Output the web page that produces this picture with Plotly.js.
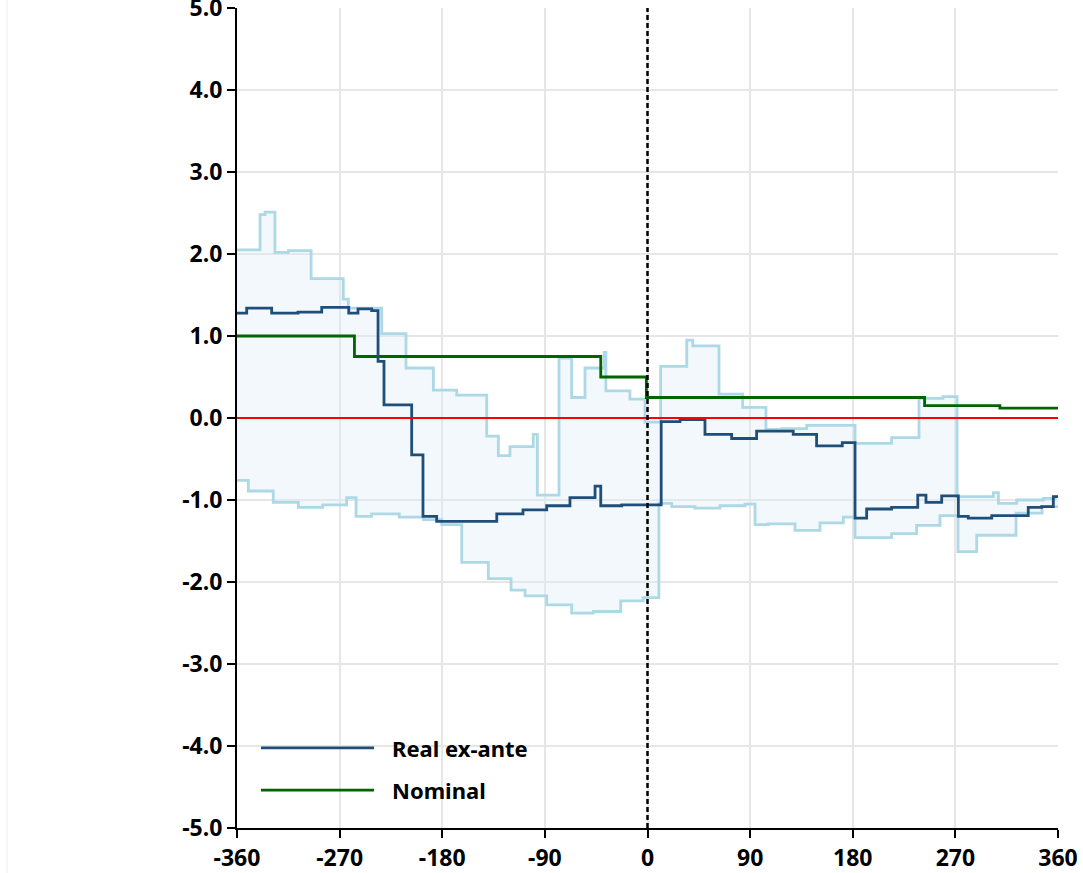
<!DOCTYPE html>
<html>
<head>
<meta charset="utf-8">
<script src="https://cdn.plot.ly/plotly-3.0.1.min.js"></script>
<style>html,body{margin:0;padding:0;background:#fff;}#chart{width:1083px;height:873px;}</style>
</head>
<body>
<div id="chart"></div>
<script>
// Real ex-ante (step changes)
const realX = [-360, -351.5, -329.6, -306.5, -285.7, -262, -253.9, -241.9, -236.3, -231.1, -206.8, -196.9, -184.9, -132.2, -109.2, -88.4, -68.0, -46.0, -41.0, -22.6, 12, 28.5, 50.4, 73.8, 95.7, 127.8, 148.3, 170.8, 182, 192.2, 214.1, 237.0, 244.2, 258.0, 272.6, 281.3, 301.9, 333.9, 345.7, 355.9, 360];
const realY = [1.28, 1.34, 1.28, 1.29, 1.35, 1.28, 1.33, 1.31, 0.69, 0.16, -0.45, -1.20, -1.26, -1.17, -1.12, -1.07, -0.97, -0.83, -1.07, -1.06, -0.045, -0.02, -0.20, -0.25, -0.16, -0.20, -0.34, -0.30, -1.22, -1.11, -1.09, -0.94, -1.03, -0.95, -1.20, -1.22, -1.19, -1.09, -1.08, -0.96, -0.96];

// Nominal
const nomX = [-360, -257, -41, -1, 243, 309, 360];
const nomY = [1.0, 0.75, 0.5, 0.25, 0.15, 0.12, 0.12];

// Band upper bound
const upX = [-360, -339.8, -335.4, -326.7, -315, -295, -266.8, -262.4, -233.1, -211.8, -187.8, -167.3, -141, -130.8, -120.6, -100.2, -96.6, -77.6, -66.5, -54.8, -38, -36.5, -15.4, -2.2, 11.5, 34.4, 39.7, 62.7, 83.5, 103.9, 117.7, 139.6, 182, 214.1, 238.1, 259.1, 271.5, 303.3, 307.7, 323.8, 347.1, 357.4, 360];
const upY = [2.05, 2.48, 2.51, 2.02, 2.04, 1.70, 1.45, 1.34, 1.03, 0.61, 0.34, 0.28, -0.22, -0.46, -0.35, -0.20, -0.94, 0.73, 0.25, 0.61, 0.80, 0.33, 0.23, -0.05, 0.63, 0.95, 0.88, 0.29, 0.13, -0.14, -0.13, -0.09, -0.31, -0.24, 0.24, 0.26, -0.96, -0.91, -1.04, -1.00, -0.98, -0.96, -0.96];

// Band lower bound
const loX = [-360, -350.1, -328.2, -306.2, -284.8, -263.8, -255.6, -241.9, -217.7, -196.6, -180.5, -162.9, -139.6, -119.7, -107.4, -88.4, -66.5, -47.5, -23.5, -3.7, 10, 21.2, 41.6, 63.6, 85.5, 94.3, 105.9, 129.4, 151.3, 171.7, 182, 214.1, 236.0, 256.5, 272.3, 288.7, 323.2, 346.0, 360];
const loY = [-0.76, -0.89, -1.03, -1.09, -1.06, -0.97, -1.20, -1.17, -1.21, -1.24, -1.30, -1.76, -1.96, -2.10, -2.17, -2.28, -2.38, -2.36, -2.23, -2.19, -1.04, -1.08, -1.10, -1.07, -1.05, -1.30, -1.29, -1.37, -1.28, -1.21, -1.46, -1.41, -1.31, -1.19, -1.63, -1.43, -1.16, -1.08, -1.08];

const xTicks = [-360, -270, -180, -90, 0, 90, 180, 270, 360];
const yTicks = [-5, -4, -3, -2, -1, 0, 1, 2, 3, 4, 5];
const legendNames = ['Real ex-ante', 'Nominal'];

const realColor = '#1f4e79', nomColor = '#006400', bandColor = '#add8e6';
const fontFam = 'Noto Sans, DejaVu Sans, sans-serif';

const traces = [
  {x: loX, y: loY, mode: 'lines', line: {shape: 'hv', color: bandColor, width: 2.8}, hoverinfo: 'skip'},
  {x: upX, y: upY, mode: 'lines', line: {shape: 'hv', color: bandColor, width: 2.8}, fill: 'tonexty', fillcolor: 'rgba(220,236,244,0.38)', hoverinfo: 'skip'},
  {x: nomX, y: nomY, mode: 'lines', name: legendNames[1], line: {shape: 'hv', color: nomColor, width: 2.8}},
  {x: realX, y: realY, mode: 'lines', name: legendNames[0], line: {shape: 'hv', color: realColor, width: 2.8}}
];

const tickFont = {family: fontFam, size: 23, color: '#000', weight: 'bold'};

// manual legend (long line samples)
const legY = [0.0976, 0.0463];
const legColors = [realColor, nomColor];
const legShapes = legY.map((y, i) => ({type: 'line', xref: 'paper', yref: 'paper', x0: 0.0292, x1: 0.1669, y0: y, y1: y,
  line: {color: legColors[i], width: 2.8}, layer: 'above'}));
const legAnn = legY.map((y, i) => ({xref: 'paper', yref: 'paper', x: 0.186, y: y, xanchor: 'left', yanchor: 'middle',
  text: legendNames[i], showarrow: false, font: {family: fontFam, size: 22, color: '#000', weight: 'bold'}}));

const layout = {
  width: 1083, height: 873,
  margin: {l: 237, r: 25, t: 8, b: 45},
  paper_bgcolor: '#fff', plot_bgcolor: '#fff',
  showlegend: false,
  xaxis: {range: [-360, 360], tickvals: xTicks, ticktext: xTicks.map(String), showgrid: true, gridcolor: '#e6e6e6', gridwidth: 2,
          zeroline: false, showline: true, linecolor: '#000', linewidth: 2, ticks: 'outside', ticklen: 8, tickwidth: 2, tickcolor: '#000',
          tickfont: tickFont, ticklabeloverflow: 'allow'},
  yaxis: {range: [-5, 5], tickvals: yTicks, ticktext: yTicks.map(v => v.toFixed(1)), showgrid: true, gridcolor: '#e6e6e6', gridwidth: 2,
          zeroline: false, showline: true, linecolor: '#000', linewidth: 2, ticks: 'outside', ticklen: 8, tickwidth: 2, tickcolor: '#000',
          tickfont: tickFont, ticklabeloverflow: 'allow'},
  shapes: [
    {type: 'line', xref: 'paper', yref: 'y', x0: 0, x1: 1, y0: 0, y1: 0, line: {color: '#ff0000', width: 2.2}, layer: 'above'},
    {type: 'line', xref: 'x', yref: 'paper', x0: 0, x1: 0, y0: 0, y1: 1, line: {color: '#000', width: 2.5, dash: '5px,3px'}, layer: 'above'},
    {type: 'line', xref: 'paper', yref: 'paper', x0: -0.2801, x1: -0.2801, y0: -0.06, y1: 1.02, line: {color: '#eeeeee', width: 1}}
  ].concat(legShapes),
  annotations: legAnn
};

Plotly.newPlot('chart', traces, layout, {displayModeBar: false, staticPlot: true});
</script>
</body>
</html>
